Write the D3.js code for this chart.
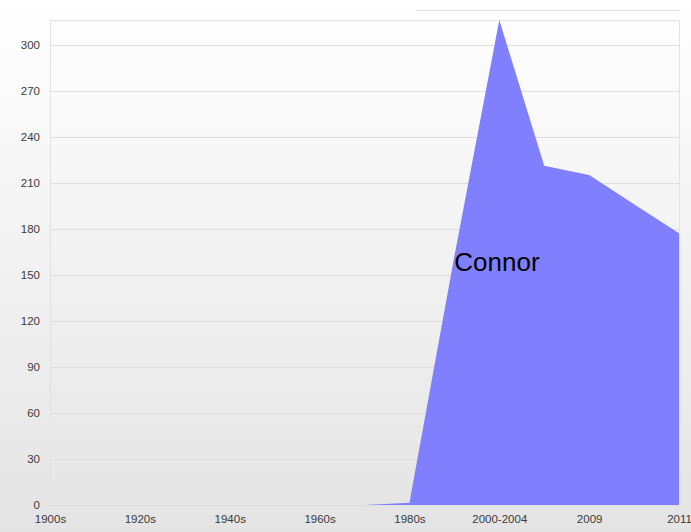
<!DOCTYPE html>
<html>
<head>
<meta charset="utf-8">
<script src="https://cdn.jsdelivr.net/npm/d3@7/dist/d3.min.js"></script>
<style>
html,body{margin:0;padding:0;background:#fff;}
svg{display:block;font-family:"Liberation Sans",Arial,Helvetica,sans-serif;}
</style>
</head>
<body>
<svg id="chart" width="691" height="532"></svg>
<script>
const categories = ["1900s","1910s","1920s","1930s","1940s","1950s","1960s","1970s","1980s","1990s","2000-2004","2005-2008","2009","2010","2011"];
const values = [0,0,0,0,0,0,0,0,1.5,162,316,221,215,196,177];
const yTicks = [0,30,60,90,120,150,180,210,240,270,300];
const xTickLabels = ["1900s","1920s","1940s","1960s","1980s","2000-2004","2009","2011"];
const seriesName = "Connor";

const W = 691, H = 532;
const m = {left:50, right:12, top:20, bottom:27};
const svg = d3.select("#chart");

const defs = svg.append("defs");
const grad = defs.append("linearGradient").attr("id","bg").attr("x1",0).attr("y1",0).attr("x2",0).attr("y2",1);
grad.append("stop").attr("offset","0%").attr("stop-color","#ffffff");
grad.append("stop").attr("offset","100%").attr("stop-color","#e4e4e4");
svg.append("rect").attr("width",W).attr("height",H).attr("fill","url(#bg)");

const x = d3.scalePoint().domain(categories).range([m.left, W - m.right]);
const y = d3.scaleLinear().domain([0, 316]).range([H - m.bottom, m.top]);

// plot frame
svg.append("rect").attr("x", m.left + 0.5).attr("y", m.top + 0.5)
  .attr("width", x.range()[1] - m.left).attr("height", y(0) - m.top)
  .attr("fill","none").attr("stroke","#e2e2e2").attr("stroke-width",1);

// gridlines
svg.append("g").selectAll("line").data(yTicks).join("line")
  .attr("x1", m.left).attr("x2", x.range()[1])
  .attr("y1", d => Math.round(y(d)) + 0.5).attr("y2", d => Math.round(y(d)) + 0.5)
  .attr("stroke", "#dedede").attr("stroke-width", 1);

// top-right line
svg.append("line").attr("x1",416).attr("x2",680).attr("y1",10.5).attr("y2",10.5)
  .attr("stroke","#dcdcdc").attr("stroke-width",1);

// area (series begins at the 1970s)
const startIdx = 7;
const sub = values.map((v,i)=>({v,i})).filter(d => d.i >= startIdx);
svg.append("path")
  .datum(sub)
  .attr("d", d3.area().x(d => x(categories[d.i])).y0(y(0)).y1(d => y(d.v)))
  .attr("fill", "#8080ff");

// y axis labels
const yAxis = d3.axisLeft(y).tickValues(yTicks).tickSize(0).tickPadding(10);
const gy = svg.append("g").attr("transform", `translate(${m.left},0)`).call(yAxis);
gy.select(".domain").remove();
gy.selectAll("text").attr("font-size", 11.5).attr("fill", "#3a3a3a").attr("font-family", "'Liberation Sans',Arial,sans-serif");

// x axis labels
const xAxis = d3.axisBottom(x).tickValues(xTickLabels).tickSize(0).tickPadding(10);
const gx = svg.append("g").attr("transform", `translate(0,${y(0)})`).call(xAxis);
gx.select(".domain").remove();
gx.selectAll("text").attr("font-size", 11.5).attr("fill", "#3a3a3a").attr("font-family", "'Liberation Sans',Arial,sans-serif");

// series label
svg.append("text").attr("x", x("1990s")).attr("y", 271)
  .attr("font-size", 26).attr("fill", "#000").text(seriesName);
</script>
</body>
</html>
